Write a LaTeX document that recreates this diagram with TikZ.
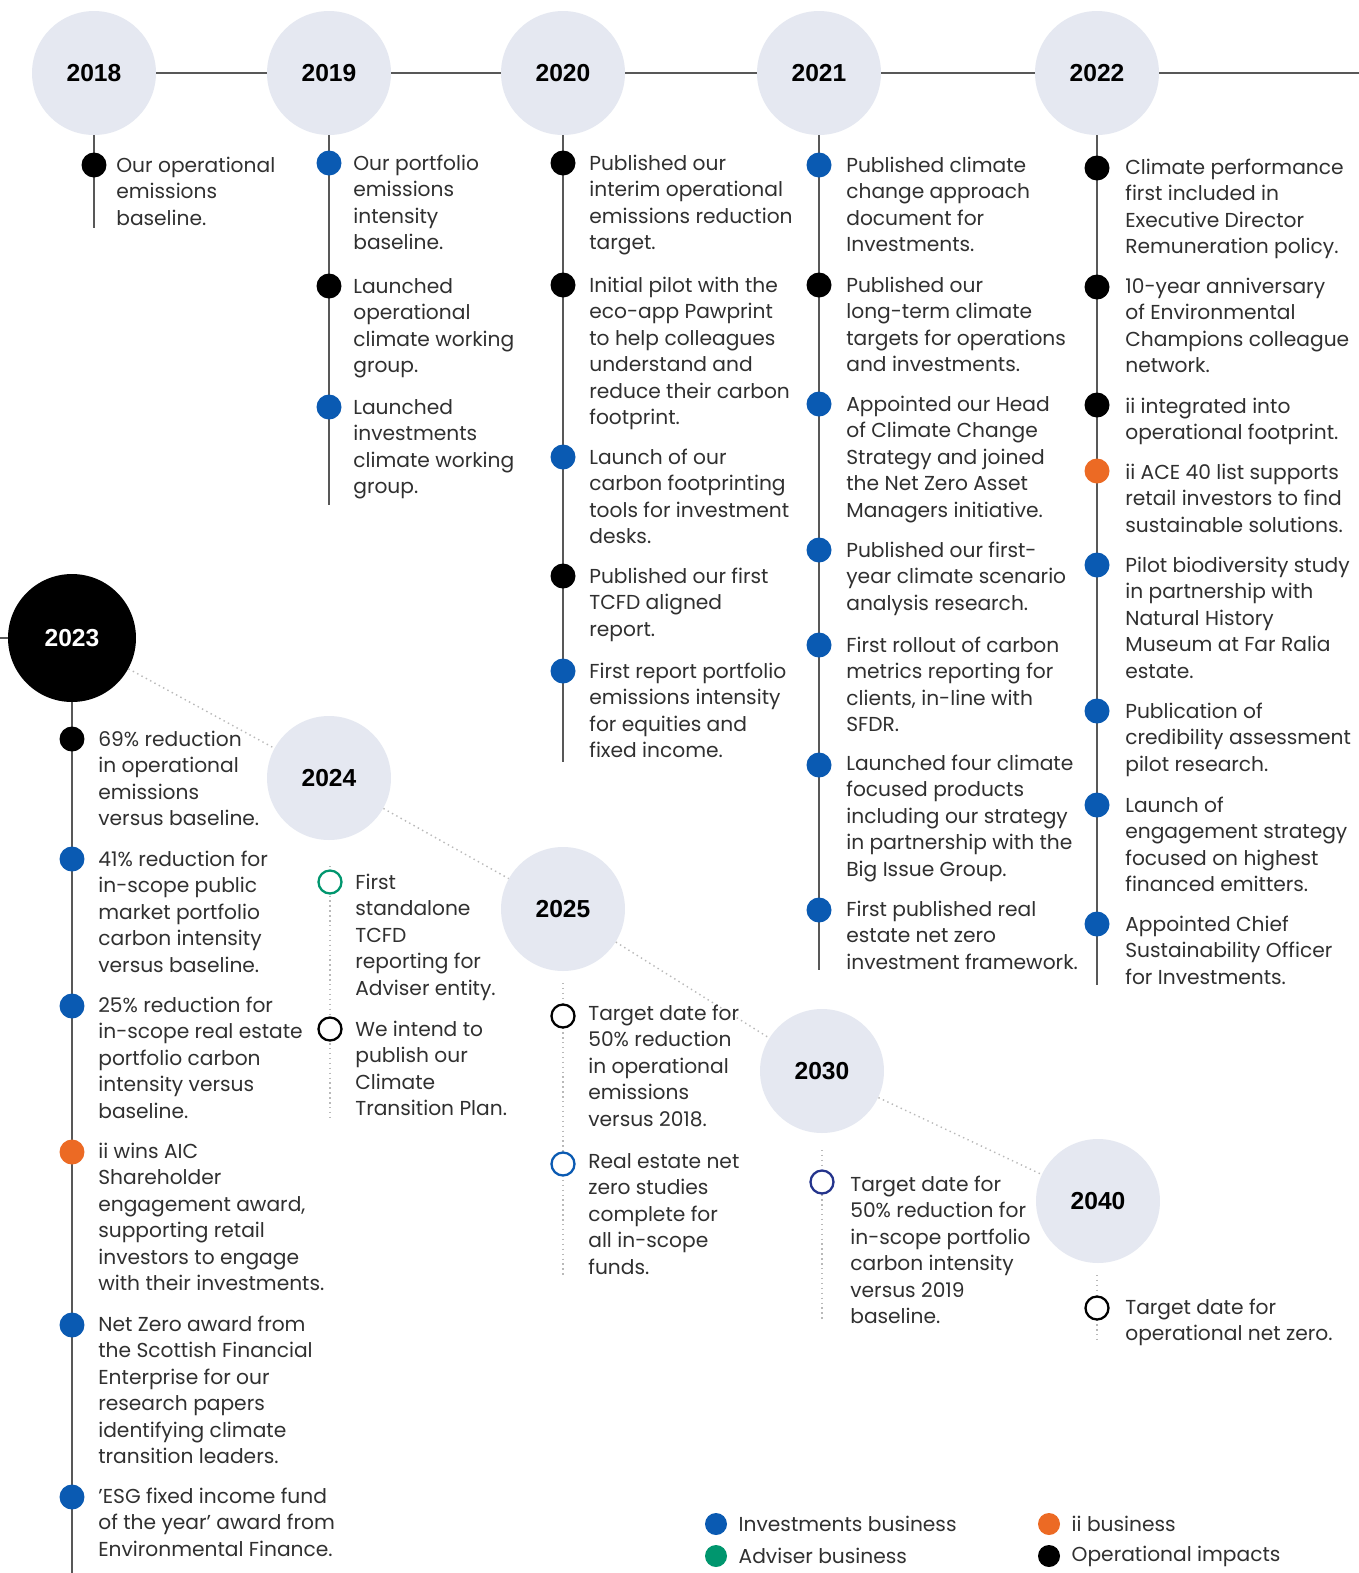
\documentclass[tikz,border=0pt]{standalone}
\usepackage{fontspec}
\setmainfont{Poppins}
\newfontfamily\yearfont{Liberation Sans}
\usepackage{tikz}
\usetikzlibrary{positioning}
\definecolor{invblue}{RGB}{10,90,178}
\definecolor{iiorange}{RGB}{236,106,36}
\definecolor{advgreen}{RGB}{0,150,110}
\definecolor{invnavy}{RGB}{36,52,140}
\definecolor{yearhaze}{RGB}{229,232,241}
\definecolor{spinegray}{RGB}{88,88,88}
\definecolor{inkgray}{RGB}{48,48,48}
\newcommand{\evtfont}{\fontsize{11.5}{15.1}\selectfont}
% lines of one event, baseline on the first line
\newcommand{\evlines}[1]{\begin{tabular}[t]{@{}l@{}}#1\end{tabular}}

\begin{document}
\begin{tikzpicture}[x=0.02cm, y=-0.02cm,
    yr/.style={circle, fill=yearhaze, minimum size=2.48cm, inner sep=0pt,
               font=\yearfont\bfseries\fontsize{14}{16}\selectfont, text=black},
    dot/.style={circle, fill=#1, minimum size=0.5cm, inner sep=0pt},
    ring/.style={circle, draw=#1, line width=1.3pt, fill=white,
                 minimum size=0.46cm, inner sep=0pt},
    evt/.style={anchor=base west, inner sep=0pt, text=inkgray, font=\evtfont},
    spine/.style={line width=1.1pt, spinegray},
    future/.style={line width=0.8pt, gray!55, dotted},
    lgd/.style={inner sep=0pt, text=inkgray, font=\evtfont}]

\fill[white] (0,0) rectangle (1359,1573);
\useasboundingbox (0,0) rectangle (1359,1573);

%% ── Year circles ─────────────────────────────────────────────────────────────
\node[yr] (y2018) at (94,73)   {2018};
\node[yr] (y2019) at (329,73)  {2019};
\node[yr] (y2020) at (563,73)  {2020};
\node[yr] (y2021) at (819,73)  {2021};
\node[yr] (y2022) at (1097,73) {2022};
\node[yr, fill=black, text=white, minimum size=2.56cm] (y2023) at (72,638) {2023};
\node[yr] (y2024) at (329,778)  {2024};
\node[yr] (y2025) at (563,909)  {2025};
\node[yr] (y2030) at (822,1071) {2030};
\node[yr] (y2040) at (1098,1201) {2040};

%% ── Timeline lines ───────────────────────────────────────────────────────────
\coordinate (topend) at (1359,73);
\coordinate (wrap)   at (0,638);
\draw[spine] (y2018.east) -- (y2019.west);
\draw[spine] (y2019.east) -- (y2020.west);
\draw[spine] (y2020.east) -- (y2021.west);
\draw[spine] (y2021.east) -- (y2022.west);
\draw[spine] (y2022.east) -- (topend);
\draw[spine] (wrap) -- (y2023.west);
\draw[future] (y2023) -- (y2024) -- (y2025) -- (y2030) -- (y2040);

%% Vertical spines
\coordinate (e2018) at (94,228);
\coordinate (e2019) at (329,505);
\coordinate (e2020) at (563,762);
\coordinate (e2021) at (819,970);
\coordinate (e2022) at (1097,985);
\coordinate (e2023) at (72,1573);
\draw[spine] (y2018.south) -- (e2018);
\draw[spine] (y2019.south) -- (e2019);
\draw[spine] (y2020.south) -- (e2020);
\draw[spine] (y2021.south) -- (e2021);
\draw[spine] (y2022.south) -- (e2022);
\draw[spine] (y2023.south) -- (e2023);

%% Future spines
\coordinate (s2024) at (330,866);  \coordinate (e2024) at (330,1120);
\coordinate (s2025) at (563,983);  \coordinate (e2025) at (563,1275);
\coordinate (s2030) at (822,1150); \coordinate (e2030) at (822,1320);
\coordinate (s2040) at (1097,1275); \coordinate (e2040) at (1097,1340);
\draw[future] (s2024) -- (e2024);
\draw[future] (s2025) -- (e2025);
\draw[future] (s2030) -- (e2030);
\draw[future] (s2040) -- (e2040);

%% ── 2018 ─────────────────────────────────────────────────────────────────────
\node[dot=black] (d18a) at (94,165) {};
\node[evt] (t18a) at (116,172) {\evlines{Our operational\\emissions\\baseline.}};

%% ── 2019 ─────────────────────────────────────────────────────────────────────
\node[dot=invblue] (d19a) at (329,163) {};
\node[evt] (t19a) at (353,170) {\evlines{Our portfolio\\emissions\\intensity\\baseline.}};
\node[dot=black] (d19b) at (329,286) {};
\node[evt] (t19b) at (353,293) {\evlines{Launched\\operational\\climate working\\group.}};
\node[dot=invblue] (d19c) at (329,407) {};
\node[evt] (t19c) at (353,414) {\evlines{Launched\\investments\\climate working\\group.}};

%% ── 2020 ─────────────────────────────────────────────────────────────────────
\node[dot=black] (d20a) at (563,163) {};
\node[evt] (t20a) at (589,170)
    {\evlines{Published our\\interim operational\\emissions reduction\\target.}};
\node[dot=black] (d20b) at (563,285) {};
\node[evt] (t20b) at (589,292)
    {\evlines{Initial pilot with the\\eco-app Pawprint\\to help colleagues\\understand and\\reduce their carbon\\footprint.}};
\node[dot=invblue] (d20c) at (563,457) {};
\node[evt] (t20c) at (589,464)
    {\evlines{Launch of our\\carbon footprinting\\tools for investment\\desks.}};
\node[dot=black] (d20d) at (563,576) {};
\node[evt] (t20d) at (589,583) {\evlines{Published our first\\TCFD aligned\\report.}};
\node[dot=invblue] (d20e) at (563,671) {};
\node[evt] (t20e) at (589,678)
    {\evlines{First report portfolio\\emissions intensity\\for equities and\\fixed income.}};

%% ── 2021 ─────────────────────────────────────────────────────────────────────
\node[dot=invblue] (d21a) at (819,165) {};
\node[evt] (t21a) at (846,172)
    {\evlines{Published climate\\change approach\\document for\\Investments.}};
\node[dot=black] (d21b) at (819,285) {};
\node[evt] (t21b) at (846,292)
    {\evlines{Published our\\long-term climate\\targets for operations\\and investments.}};
\node[dot=invblue] (d21c) at (819,404) {};
\node[evt] (t21c) at (846,411)
    {\evlines{Appointed our Head\\of Climate Change\\Strategy and joined\\the Net Zero Asset\\Managers initiative.}};
\node[dot=invblue] (d21d) at (819,550) {};
\node[evt] (t21d) at (846,557)
    {\evlines{Published our first-\\year climate scenario\\analysis research.}};
\node[dot=invblue] (d21e) at (819,645) {};
\node[evt] (t21e) at (846,652)
    {\evlines{First rollout of carbon\\metrics reporting for\\clients, in-line with\\SFDR.}};
\node[dot=invblue] (d21f) at (819,765) {};
\node[evt] (t21f) at (846,770)
    {\evlines{Launched four climate\\focused products\\including our strategy\\in partnership with the\\Big Issue Group.}};
\node[dot=invblue] (d21g) at (819,910) {};
\node[evt] (t21g) at (846,916)
    {\evlines{First published real\\estate net zero\\investment framework.}};

%% ── 2022 ─────────────────────────────────────────────────────────────────────
\node[dot=black] (d22a) at (1097,168) {};
\node[evt] (t22a) at (1125,174)
    {\evlines{Climate performance\\first included in\\Executive Director\\Remuneration policy.}};
\node[dot=black] (d22b) at (1097,287) {};
\node[evt] (t22b) at (1125,293)
    {\evlines{10-year anniversary\\of Environmental\\Champions colleague\\network.}};
\node[dot=black] (d22c) at (1097,405) {};
\node[evt] (t22c) at (1125,413) {\evlines{ii integrated into\\operational footprint.}};
\node[dot=iiorange] (d22d) at (1097,471) {};
\node[evt] (t22d) at (1125,479)
    {\evlines{ii ACE 40 list supports\\retail investors to find\\sustainable solutions.}};
\node[dot=invblue] (d22e) at (1097,565) {};
\node[evt] (t22e) at (1125,572)
    {\evlines{Pilot biodiversity study\\in partnership with\\Natural History\\Museum at Far Ralia\\estate.}};
\node[dot=invblue] (d22f) at (1097,711) {};
\node[evt] (t22f) at (1125,718)
    {\evlines{Publication of\\credibility assessment\\pilot research.}};
\node[dot=invblue] (d22g) at (1097,805) {};
\node[evt] (t22g) at (1125,812)
    {\evlines{Launch of\\engagement strategy\\focused on highest\\financed emitters.}};
\node[dot=invblue] (d22h) at (1097,924) {};
\node[evt] (t22h) at (1125,931)
    {\evlines{Appointed Chief\\Sustainability Officer\\for Investments.}};

%% ── 2023 ─────────────────────────────────────────────────────────────────────
\node[dot=black] (d23a) at (72,739) {};
\node[evt] (t23a) at (98,746)
    {\evlines{69\% reduction\\in operational\\emissions\\versus baseline.}};
\node[dot=invblue] (d23b) at (72,859) {};
\node[evt] (t23b) at (98,866)
    {\evlines{41\% reduction for\\in-scope public\\market portfolio\\carbon intensity\\versus baseline.}};
\node[dot=invblue] (d23c) at (72,1006) {};
\node[evt] (t23c) at (98,1012)
    {\evlines{25\% reduction for\\in-scope real estate\\portfolio carbon\\intensity versus\\baseline.}};
\node[dot=iiorange] (d23d) at (72,1152) {};
\node[evt] (t23d) at (98,1158)
    {\evlines{ii wins AIC\\Shareholder\\engagement award,\\supporting retail\\investors to engage\\with their investments.}};
\node[dot=invblue] (d23e) at (72,1325) {};
\node[evt] (t23e) at (98,1331)
    {\evlines{Net Zero award from\\the Scottish Financial\\Enterprise for our\\research papers\\identifying climate\\transition leaders.}};
\node[dot=invblue] (d23f) at (72,1497) {};
\node[evt] (t23f) at (98,1503)
    {\evlines{'ESG fixed income fund\\of the year' award from\\Environmental Finance.}};

%% ── 2024 / 2025 / 2030 / 2040 targets ────────────────────────────────────────
\node[ring=advgreen] (r24a) at (330,882) {};
\node[evt] (t24a) at (355,889)
    {\evlines{First\\standalone\\TCFD\\reporting for\\Adviser entity.}};
\node[ring=black] (r24b) at (330,1029) {};
\node[evt] (t24b) at (355,1036)
    {\evlines{We intend to\\publish our\\Climate\\Transition Plan.}};

\node[ring=black] (r25a) at (563,1016) {};
\node[evt] (t25a) at (588,1020)
    {\evlines{Target date for\\50\% reduction\\in operational\\emissions\\versus 2018.}};
\node[ring=invblue] (r25b) at (563,1164) {};
\node[evt] (t25b) at (588,1168)
    {\evlines{Real estate net\\zero studies\\complete for\\all in-scope\\funds.}};

\node[ring=invnavy] (r30a) at (822,1182) {};
\node[evt] (t30a) at (850,1191)
    {\evlines{Target date for\\50\% reduction for\\in-scope portfolio\\carbon intensity\\versus 2019\\baseline.}};

\node[ring=black] (r40a) at (1097,1308) {};
\node[evt] (t40a) at (1125,1314) {\evlines{Target date for\\operational net zero.}};

%% ── Legend ───────────────────────────────────────────────────────────────────
\node[dot=invblue, minimum size=0.44cm] (kinv) at (716,1524) {};
\node[lgd, right=0.22cm of kinv] (linv) {Investments business};
\node[dot=advgreen, minimum size=0.44cm] (kadv) at (716,1556) {};
\node[lgd, right=0.22cm of kadv] (ladv) {Adviser business};
\node[dot=iiorange, minimum size=0.44cm] (kii) at (1049,1524) {};
\node[lgd, right=0.22cm of kii] (lii) {ii business};
\node[dot=black, minimum size=0.44cm] (kops) at (1049,1556) {};
\node[lgd, right=0.22cm of kops] (lops) {Operational impacts};

\end{tikzpicture}
\end{document}
